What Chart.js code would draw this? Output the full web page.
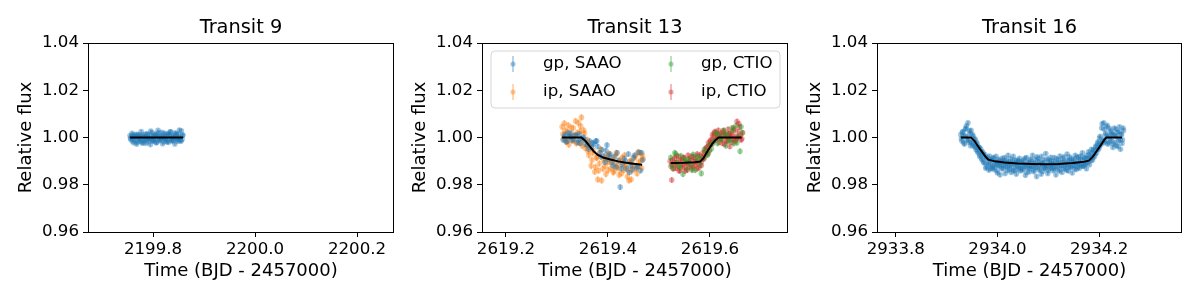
<!DOCTYPE html>
<html>
<head>
<meta charset="utf-8">
<script src="https://cdn.jsdelivr.net/npm/chart.js@4.4.1/dist/chart.umd.min.js"></script>
<style>
html, body { margin: 0; padding: 0; background: #fff; }
#wrap { position: relative; width: 1200px; height: 300px; overflow: hidden; }
#wrap canvas { position: absolute; top: 0; }
</style>
</head>
<body>
<div id="wrap">
  <canvas id="c9" width="400" height="300" style="left:0px"></canvas>
  <canvas id="c13" width="400" height="300" style="left:394px"></canvas>
  <canvas id="c16" width="400" height="300" style="left:789px"></canvas>
</div>
<script>
// ---- axes ----
const yTicks = [0.96, 0.98, 1.00, 1.02, 1.04];
const xlim9 = [2199.6725, 2200.2725];
const xlim13 = [2619.153, 2619.753];
const xlim16 = [2933.763, 2934.363];
const xTicks9 = [2199.8, 2200.0, 2200.2];
const xTicks13 = [2619.2, 2619.4, 2619.6];
const xTicks16 = [2933.8, 2934.0, 2934.2];

// ---- Transit 9 ----
const t9 = [2199.7550, 2199.7565, 2199.7580, 2199.7595, 2199.7610, 2199.7625, 2199.7640, 2199.7655, 2199.7670, 2199.7685,
  2199.7700, 2199.7715, 2199.7730, 2199.7745, 2199.7760, 2199.7775, 2199.7790, 2199.7805, 2199.7820, 2199.7835,
  2199.7850, 2199.7865, 2199.7880, 2199.7895, 2199.7910, 2199.7925, 2199.7940, 2199.7955, 2199.7970, 2199.7985,
  2199.8000, 2199.8015, 2199.8030, 2199.8045, 2199.8060, 2199.8075, 2199.8090, 2199.8105, 2199.8120, 2199.8135,
  2199.8150, 2199.8165, 2199.8180, 2199.8195, 2199.8210, 2199.8225, 2199.8240, 2199.8255, 2199.8270, 2199.8285,
  2199.8300, 2199.8315, 2199.8330, 2199.8345, 2199.8360, 2199.8375, 2199.8390, 2199.8405, 2199.8420, 2199.8435,
  2199.8450, 2199.8465, 2199.8480, 2199.8495, 2199.8510, 2199.8525, 2199.8540, 2199.8555, 2199.8570, 2199.8585,
  2199.7558, 2199.7588, 2199.7618, 2199.7648, 2199.7678, 2199.7708, 2199.7738, 2199.7768, 2199.7798, 2199.7828,
  2199.7858, 2199.7888, 2199.7918, 2199.7948, 2199.7978, 2199.8008, 2199.8038, 2199.8068, 2199.8098, 2199.8128,
  2199.8158, 2199.8188, 2199.8218, 2199.8248, 2199.8278, 2199.8308, 2199.8338, 2199.8368, 2199.8398, 2199.8428,
  2199.8458, 2199.8488, 2199.8518, 2199.8548, 2199.8578];
const f9 = [1.0008, 0.9992, 1.0003, 0.9985, 1.0011, 0.9997, 1.0005, 0.9988, 1.0014, 0.9979,
  1.0002, 0.9995, 1.0009, 0.9983, 1.0006, 0.9998, 0.9976, 1.0012, 0.9990, 1.0004,
  0.9987, 1.0016, 0.9994, 1.0001, 0.9981, 1.0010, 0.9996, 1.0027, 0.9989, 1.0007,
  0.9984, 1.0003, 0.9993, 1.0015, 0.9980, 1.0008, 0.9999, 1.0019, 0.9986, 1.0005,
  0.9991, 1.0022, 0.9997, 1.0002, 0.9982, 1.0013, 0.9994, 1.0006, 0.9988, 1.0017,
  0.9979, 1.0009, 0.9996, 1.0024, 0.9990, 1.0003, 0.9985, 1.0011, 0.9998, 1.0020,
  0.9992, 1.0007, 0.9983, 1.0014, 0.9995, 1.0001, 0.9987, 1.0028, 0.9993, 1.0010,
  0.9998, 1.0018, 0.9978, 1.0005, 0.9972, 1.0012, 0.9990, 1.0025, 0.9980, 1.0003,
  0.9975, 1.0015, 0.9994, 0.9970, 1.0021, 0.9988, 1.0010, 0.9977, 1.0030, 0.9992,
  1.0006, 0.9974, 1.0019, 0.9996, 0.9981, 1.0012, 1.0024, 0.9986, 1.0001, 0.9973,
  1.0016, 0.9993, 1.0032, 0.9984, 1.0009];
const model9 = [[2199.755, 1.0], [2199.859, 1.0]];

// ---- Transit 13 ----
const tGpSaao = [2619.312, 2619.316, 2619.320, 2619.324, 2619.328, 2619.332, 2619.336, 2619.340, 2619.344, 2619.348,
  2619.352, 2619.356, 2619.360, 2619.364, 2619.368, 2619.372, 2619.376, 2619.380, 2619.384, 2619.388,
  2619.392, 2619.396, 2619.400, 2619.404, 2619.408, 2619.412, 2619.416, 2619.420, 2619.424, 2619.428,
  2619.432, 2619.436, 2619.440, 2619.444, 2619.448, 2619.452, 2619.456, 2619.460, 2619.464, 2619.468,
  2619.314, 2619.318, 2619.322, 2619.330, 2619.338, 2619.346, 2619.354, 2619.362, 2619.370, 2619.378,
  2619.386, 2619.394, 2619.402, 2619.410, 2619.418, 2619.426, 2619.434, 2619.442, 2619.450, 2619.458,
  2619.466, 2619.326, 2619.342, 2619.398, 2619.446];
const fGpSaao = [0.9990, 1.0012, 0.9985, 1.0004, 1.0018, 0.9993, 1.0008, 0.9979, 1.0015, 0.9996,
  1.0001, 0.9972, 0.9968, 0.9985, 0.9958, 0.9972, 0.9985, 0.9962, 0.9935, 0.9948,
  0.9922, 0.9945, 0.9908, 0.9930, 0.9895, 0.9918, 0.9875, 0.9902, 0.9790, 0.9885,
  0.9912, 0.9868, 0.9930, 0.9880, 0.9865, 0.9925, 0.9872, 0.9938, 0.9860, 0.9905,
  1.0005, 0.9982, 1.0020, 0.9988, 1.0010, 0.9975, 0.9992, 0.9950, 0.9978, 0.9985,
  0.9918, 0.9895, 0.9925, 0.9880, 0.9935, 0.9868, 0.9900, 0.9852, 0.9915, 0.9878,
  0.9935, 1.0002, 0.9990, 0.9968, 0.9895];
const tIpSaao = [2619.310, 2619.313, 2619.316, 2619.319, 2619.322, 2619.326, 2619.329, 2619.332, 2619.335, 2619.338,
  2619.342, 2619.345, 2619.348, 2619.351, 2619.354, 2619.358, 2619.361, 2619.364, 2619.367, 2619.370,
  2619.374, 2619.377, 2619.380, 2619.383, 2619.386, 2619.390, 2619.393, 2619.396, 2619.399, 2619.402,
  2619.406, 2619.409, 2619.412, 2619.415, 2619.418, 2619.422, 2619.425, 2619.428, 2619.431, 2619.434,
  2619.438, 2619.441, 2619.444, 2619.447, 2619.450, 2619.454, 2619.457, 2619.460, 2619.463, 2619.466, 2619.469,
  2619.3115, 2619.3145, 2619.3175, 2619.3205, 2619.3235, 2619.3275, 2619.3305, 2619.3335, 2619.3365, 2619.3395,
  2619.3435, 2619.3465, 2619.3495, 2619.3525, 2619.3555, 2619.3595, 2619.3625, 2619.3655, 2619.3685, 2619.3715,
  2619.3755, 2619.3785, 2619.3815, 2619.3845, 2619.3875, 2619.3915, 2619.3945, 2619.3975, 2619.4005, 2619.4035,
  2619.4075, 2619.4105, 2619.4135, 2619.4165, 2619.4195, 2619.4235, 2619.4265, 2619.4295, 2619.4325, 2619.4355,
  2619.4395, 2619.4425, 2619.4455, 2619.4485, 2619.4515, 2619.4555, 2619.4585, 2619.4615, 2619.4645, 2619.4675];
const fIpSaao = [1.0045, 0.9995, 1.0030, 0.9980, 1.0052, 1.0010, 0.9988, 1.0040, 1.0008, 0.9975,
  1.0062, 1.0025, 1.0085, 0.9990, 1.0018, 0.9965, 0.9942, 0.9978, 0.9880, 0.9935,
  0.9855, 0.9915, 0.9822, 0.9890, 0.9950, 0.9868, 0.9912, 0.9845, 0.9898, 0.9932,
  0.9870, 0.9905, 0.9858, 0.9925, 0.9880, 0.9842, 0.9895, 0.9915, 0.9862, 0.9885,
  0.9835, 0.9818, 0.9900, 0.9858, 0.9878, 0.9920, 0.9848, 0.9895, 0.9935, 0.9870, 0.9910,
  1.0015, 1.0060, 0.9988, 1.0025, 0.9970, 1.0042, 1.0005, 0.9985, 1.0070, 1.0020,
  0.9978, 1.0048, 0.9965, 1.0030, 0.9955, 0.9990, 0.9925, 0.9960, 0.9905, 0.9945,
  0.9875, 0.9915, 0.9860, 0.9935, 0.9818, 0.9905, 0.9880, 0.9925, 0.9862, 0.9895,
  0.9912, 0.9852, 0.9888, 0.9935, 0.9870, 0.9905, 0.9848, 0.9892, 0.9925, 0.9875,
  0.9860, 0.9898, 0.9822, 0.9885, 0.9912, 0.9868, 0.9935, 0.9880, 0.9905, 0.9925];
const tGpCtio = [2619.523, 2619.527, 2619.531, 2619.535, 2619.539, 2619.543, 2619.547, 2619.551, 2619.555, 2619.559,
  2619.563, 2619.567, 2619.571, 2619.575, 2619.579, 2619.583, 2619.587, 2619.591, 2619.595, 2619.599,
  2619.603, 2619.607, 2619.611, 2619.615, 2619.619, 2619.623, 2619.627, 2619.631, 2619.635, 2619.639,
  2619.643, 2619.647, 2619.651, 2619.655, 2619.659, 2619.663,
  2619.525, 2619.533, 2619.541, 2619.549, 2619.557, 2619.565, 2619.573, 2619.581, 2619.589, 2619.597,
  2619.605, 2619.613, 2619.621, 2619.629, 2619.637, 2619.645, 2619.653, 2619.661];
const fGpCtio = [0.9915, 0.9870, 0.9935, 0.9895, 0.9880, 0.9922, 0.9845, 0.9905, 0.9868, 0.9910,
  0.9885, 0.9928, 0.9862, 0.9900, 0.9918, 0.9848, 0.9912, 0.9940, 0.9925, 0.9968,
  0.9952, 0.9985, 1.0015, 0.9975, 1.0008, 0.9992, 1.0030, 0.9965, 1.0012, 0.9990,
  1.0040, 0.9975, 1.0050, 1.0002, 0.9942, 1.0020,
  0.9885, 0.9930, 0.9872, 0.9908, 0.9895, 0.9862, 0.9920, 0.9885, 0.9950, 0.9935,
  0.9975, 1.0020, 0.9995, 1.0012, 0.9985, 1.0030, 0.9978, 1.0045];
const tIpCtio = [2619.522, 2619.525, 2619.527, 2619.530, 2619.533, 2619.535, 2619.538, 2619.541, 2619.543, 2619.546,
  2619.549, 2619.551, 2619.554, 2619.557, 2619.559, 2619.562, 2619.565, 2619.567, 2619.570, 2619.573,
  2619.575, 2619.578, 2619.581, 2619.583, 2619.586, 2619.589, 2619.591, 2619.594, 2619.597, 2619.599,
  2619.602, 2619.605, 2619.607, 2619.610, 2619.613, 2619.615, 2619.618, 2619.621, 2619.623, 2619.626,
  2619.629, 2619.631, 2619.634, 2619.637, 2619.639, 2619.642, 2619.645, 2619.647, 2619.650, 2619.653,
  2619.655, 2619.658, 2619.661, 2619.664,
  2619.5235, 2619.5265, 2619.5285, 2619.5315, 2619.5345, 2619.5365, 2619.5395, 2619.5425, 2619.5445, 2619.5475,
  2619.5505, 2619.5525, 2619.5555, 2619.5585, 2619.5605, 2619.5635, 2619.5665, 2619.5685, 2619.5715, 2619.5745,
  2619.5765, 2619.5795, 2619.5825, 2619.5845, 2619.5875, 2619.5905, 2619.5925, 2619.5955, 2619.5985, 2619.6005,
  2619.6035, 2619.6065, 2619.6085, 2619.6115, 2619.6145, 2619.6165, 2619.6195, 2619.6225, 2619.6245, 2619.6275,
  2619.6305, 2619.6325, 2619.6355, 2619.6385, 2619.6405, 2619.6435, 2619.6465, 2619.6485, 2619.6515, 2619.6545,
  2619.6565, 2619.6595, 2619.6625];
const fIpCtio = [0.9900, 0.9820, 0.9885, 0.9912, 0.9870, 0.9895, 0.9920, 0.9862, 0.9905, 0.9880,
  0.9915, 0.9858, 0.9892, 0.9925, 0.9875, 0.9902, 0.9868, 0.9918, 0.9885, 0.9898,
  0.9930, 0.9872, 0.9908, 0.9882, 0.9935, 0.9915, 0.9948, 0.9960, 0.9978, 0.9945,
  0.9990, 1.0012, 0.9985, 1.0025, 0.9998, 1.0008, 0.9980, 1.0018, 0.9995, 1.0028,
  0.9972, 1.0005, 0.9988, 1.0015, 0.9962, 1.0010, 0.9992, 1.0032, 0.9985, 1.0068,
  1.0002, 1.0045, 0.9990, 1.0020,
  0.9878, 0.9905, 0.9868, 0.9892, 0.9922, 0.9880, 0.9858, 0.9900, 0.9885, 0.9915,
  0.9872, 0.9895, 0.9862, 0.9908, 0.9888, 0.9920, 0.9875, 0.9898, 0.9912, 0.9868,
  0.9890, 0.9925, 0.9895, 0.9918, 0.9908, 0.9940, 0.9955, 0.9930, 0.9968, 0.9985,
  0.9972, 1.0005, 1.0020, 0.9990, 1.0015, 1.0030, 0.9995, 1.0008, 0.9975, 1.0022,
  1.0012, 0.9985, 1.0035, 0.9998, 1.0018, 0.9980, 1.0040, 1.0005, 0.9992, 1.0025,
  1.0058, 1.0010, 0.9995];
const modelSaao = [[2619.310, 1.0], [2619.348, 1.0], [2619.356, 0.9985], [2619.364, 0.9963], [2619.372, 0.9942],
  [2619.380, 0.9926], [2619.392, 0.9914], [2619.407, 0.9906], [2619.420, 0.9899], [2619.433, 0.9894],
  [2619.450, 0.9889], [2619.467, 0.9885]];
const modelCtio = [[2619.523, 0.9892], [2619.550, 0.9893], [2619.570, 0.9895], [2619.581, 0.9898], [2619.588, 0.9915],
  [2619.596, 0.9945], [2619.604, 0.9972], [2619.611, 0.9990], [2619.617, 1.0], [2619.662, 1.0]];
const labels13 = ['gp, SAAO', 'ip, SAAO', 'gp, CTIO', 'ip, CTIO'];
const err13 = [0.0012, 0.0014, 0.0013, 0.0012];

// ---- Transit 16 ----
const t16 = [2933.928, 2933.930, 2933.932, 2933.934, 2933.936, 2933.938, 2933.940, 2933.942, 2933.944, 2933.946,
  2933.948, 2933.950, 2933.952, 2933.954, 2933.956, 2933.958, 2933.960, 2933.962, 2933.964, 2933.966,
  2933.968, 2933.970, 2933.972, 2933.974, 2933.976, 2933.978, 2933.980, 2933.982, 2933.984, 2933.986,
  2933.988, 2933.990, 2933.992, 2933.994, 2933.996, 2933.998, 2934.000, 2934.002, 2934.004, 2934.006,
  2934.008, 2934.010, 2934.012, 2934.014, 2934.016, 2934.018, 2934.020, 2934.022, 2934.024, 2934.026,
  2934.028, 2934.030, 2934.032, 2934.034, 2934.036, 2934.038, 2934.040, 2934.042, 2934.044, 2934.046,
  2934.048, 2934.050, 2934.052, 2934.054, 2934.056, 2934.058, 2934.060, 2934.062, 2934.064, 2934.066,
  2934.068, 2934.070, 2934.072, 2934.074, 2934.076, 2934.078, 2934.080, 2934.082, 2934.084, 2934.086,
  2934.088, 2934.090, 2934.092, 2934.094, 2934.096, 2934.098, 2934.100, 2934.102, 2934.104, 2934.106,
  2934.108, 2934.110, 2934.112, 2934.114, 2934.116, 2934.118, 2934.120, 2934.122, 2934.124, 2934.126,
  2934.128, 2934.130, 2934.132, 2934.134, 2934.136, 2934.138, 2934.140, 2934.142, 2934.144, 2934.146,
  2934.148, 2934.150, 2934.152, 2934.154, 2934.156, 2934.158, 2934.160, 2934.162, 2934.164, 2934.166,
  2934.168, 2934.170, 2934.172, 2934.174, 2934.176, 2934.178, 2934.180, 2934.182, 2934.184, 2934.186,
  2934.188, 2934.190, 2934.192, 2934.194, 2934.196, 2934.198, 2934.200, 2934.202, 2934.204, 2934.206,
  2934.208, 2934.210, 2934.212, 2934.214, 2934.216, 2934.218, 2934.220, 2934.222, 2934.224, 2934.226,
  2934.228, 2934.230, 2934.232, 2934.234, 2934.236, 2934.238, 2934.240, 2934.242, 2934.244, 2934.246, 2934.248,
  2933.929, 2933.931, 2933.933, 2933.935, 2933.937, 2933.939, 2933.941, 2933.943, 2933.945, 2933.947,
  2933.949, 2933.951, 2933.953, 2933.955, 2933.957, 2933.959, 2933.961, 2933.963, 2933.965, 2933.967,
  2933.969, 2933.971, 2933.973, 2933.975, 2933.977, 2933.979, 2933.981, 2933.983, 2933.985, 2933.987,
  2933.989, 2933.991, 2933.993, 2933.995, 2933.997, 2933.999, 2934.001, 2934.003, 2934.005, 2934.007,
  2934.009, 2934.011, 2934.013, 2934.015, 2934.017, 2934.019, 2934.021, 2934.023, 2934.025, 2934.027,
  2934.029, 2934.031, 2934.033, 2934.035, 2934.037, 2934.039, 2934.041, 2934.043, 2934.045, 2934.047,
  2934.049, 2934.051, 2934.053, 2934.055, 2934.057, 2934.059, 2934.061, 2934.063, 2934.065, 2934.067,
  2934.069, 2934.071, 2934.073, 2934.075, 2934.077, 2934.079, 2934.081, 2934.083, 2934.085, 2934.087,
  2934.089, 2934.091, 2934.093, 2934.095, 2934.097, 2934.099, 2934.101, 2934.103, 2934.105, 2934.107,
  2934.109, 2934.111, 2934.113, 2934.115, 2934.117, 2934.119, 2934.121, 2934.123, 2934.125, 2934.127,
  2934.129, 2934.131, 2934.133, 2934.135, 2934.137, 2934.139, 2934.141, 2934.143, 2934.145, 2934.147,
  2934.149, 2934.151, 2934.153, 2934.155, 2934.157, 2934.159, 2934.161, 2934.163, 2934.165, 2934.167,
  2934.169, 2934.171, 2934.173, 2934.175, 2934.177, 2934.179, 2934.181, 2934.183, 2934.185, 2934.187,
  2934.189, 2934.191, 2934.193, 2934.195, 2934.197, 2934.199, 2934.201, 2934.203, 2934.205, 2934.207,
  2934.209, 2934.211, 2934.213, 2934.215, 2934.217, 2934.219, 2934.221, 2934.223, 2934.225, 2934.227,
  2934.229, 2934.231, 2934.233, 2934.235, 2934.237, 2934.239, 2934.241, 2934.243, 2934.245, 2934.247];
const f16 = [1.0012, 0.9985, 1.0025, 0.9978, 1.0008, 1.0040, 0.9992, 1.0062, 0.9980, 1.0018,
  1.0030, 0.9975, 1.0005, 0.9962, 0.9990, 0.9948, 0.9972, 0.9935, 0.9958, 0.9925,
  0.9942, 0.9905, 0.9930, 0.9892, 0.9918, 0.9875, 0.9912, 0.9885, 0.9922, 0.9868,
  0.9905, 0.9880, 0.9912, 0.9872, 0.9898, 0.9885, 0.9850, 0.9908, 0.9878, 0.9895,
  0.9868, 0.9902, 0.9882, 0.9915, 0.9875, 0.9893, 0.9860, 0.9898, 0.9880, 0.9910,
  0.9872, 0.9890, 0.9858, 0.9905, 0.9878, 0.9895, 0.9865, 0.9900, 0.9882, 0.9870,
  0.9898, 0.9862, 0.9888, 0.9912, 0.9875, 0.9852, 0.9895, 0.9880, 0.9868, 0.9902,
  0.9878, 0.9892, 0.9855, 0.9908, 0.9872, 0.9918, 0.9885, 0.9862, 0.9898, 0.9845,
  0.9890, 0.9875, 0.9905, 0.9868, 0.9882, 0.9910, 0.9860, 0.9895, 0.9878, 0.9902,
  0.9870, 0.9888, 0.9915, 0.9865, 0.9892, 0.9878, 0.9905, 0.9858, 0.9895, 0.9882,
  0.9912, 0.9870, 0.9898, 0.9885, 0.9862, 0.9905, 0.9880, 0.9918, 0.9872, 0.9895,
  0.9880, 0.9908, 0.9868, 0.9892, 0.9915, 0.9875, 0.9900, 0.9885, 0.9922, 0.9878,
  0.9905, 0.9882, 0.9912, 0.9888, 0.9925, 0.9895, 0.9910, 0.9930, 0.9902, 0.9935,
  0.9915, 0.9945, 0.9930, 0.9965, 0.9948, 0.9982, 0.9960, 1.0005, 0.9975, 1.0058,
  0.9990, 1.0035, 1.0010, 0.9985, 1.0052, 1.0002, 0.9978, 1.0028, 0.9995, 1.0015,
  0.9972, 1.0040, 1.0008, 0.9965, 1.0022, 0.9985, 1.0045, 0.9950, 1.0012, 0.9990, 1.0030,
  0.9995, 1.0022, 1.0005, 0.9972, 1.0035, 1.0050, 1.0003, 0.9988, 1.0028, 0.9965,
  0.9982, 1.0012, 0.9968, 0.9995, 0.9958, 0.9980, 0.9942, 0.9960, 0.9920, 0.9952,
  0.9910, 0.9938, 0.9895, 0.9928, 0.9870, 0.9915, 0.9893, 0.9862, 0.9906, 0.9888,
  0.9872, 0.9915, 0.9865, 0.9890, 0.9920, 0.9858, 0.9882, 0.9900, 0.9842, 0.9885,
  0.9912, 0.9870, 0.9895, 0.9848, 0.9905, 0.9880, 0.9925, 0.9866, 0.9888, 0.9852,
  0.9898, 0.9920, 0.9862, 0.9885, 0.9845, 0.9903, 0.9876, 0.9912, 0.9858, 0.9893,
  0.9868, 0.9905, 0.9882, 0.9840, 0.9915, 0.9872, 0.9893, 0.9855, 0.9908, 0.9878,
  0.9925, 0.9862, 0.9890, 0.9876, 0.9835, 0.9898, 0.9912, 0.9868, 0.9884, 0.9920,
  0.9856, 0.9895, 0.9872, 0.9932, 0.9880, 0.9848, 0.9902, 0.9870, 0.9916, 0.9885,
  0.9860, 0.9898, 0.9875, 0.9842, 0.9910, 0.9888, 0.9865, 0.9922, 0.9880, 0.9852,
  0.9895, 0.9918, 0.9868, 0.9885, 0.9930, 0.9858, 0.9900, 0.9876, 0.9910, 0.9850,
  0.9902, 0.9882, 0.9925, 0.9865, 0.9890, 0.9918, 0.9870, 0.9908, 0.9888, 0.9935,
  0.9878, 0.9915, 0.9890, 0.9868, 0.9912, 0.9940, 0.9885, 0.9918, 0.9950, 0.9905,
  0.9948, 0.9920, 0.9960, 0.9935, 0.9975, 0.9950, 0.9998, 0.9968, 1.0040, 0.9985,
  1.0062, 0.9978, 1.0018, 1.0045, 0.9972, 1.0008, 1.0038, 0.9985, 1.0020, 0.9958,
  1.0010, 0.9980, 1.0035, 1.0002, 0.9962, 1.0025, 0.9990, 1.0015, 0.9975, 1.0040];
const model16 = [[2933.928, 1.0], [2933.948, 1.0], [2933.955, 0.9985], [2933.962, 0.9962], [2933.970, 0.9938],
  [2933.976, 0.9920], [2933.982, 0.9906], [2933.995, 0.9899], [2934.014, 0.9894], [2934.040, 0.9890],
  [2934.070, 0.9888], [2934.095, 0.9887], [2934.120, 0.9888], [2934.148, 0.9892], [2934.170, 0.9897],
  [2934.180, 0.9902], [2934.188, 0.9920], [2934.196, 0.9945], [2934.204, 0.9970], [2934.210, 0.9990],
  [2934.214, 1.0], [2934.245, 1.0]];
const err9 = 0.0007;
const err16 = 0.0008;

// ---- style ----
const FONT = 'DejaVu Sans';
const COLORS = ['31,119,180', '255,127,14', '44,160,44', '214,39,40'];
const ALPHA = 0.42;
Chart.defaults.color = '#000';
Chart.defaults.font.family = FONT;

const pts = (t, f) => t.map((x, i) => ({ x: x, y: f[i] }));
const linePts = m => m.map(p => ({ x: p[0], y: p[1] }));

const scatterSet = (label, t, f, c, err) => ({
  label: label,
  data: pts(t, f),
  err: err,
  backgroundColor: 'rgba(' + c + ',' + ALPHA + ')',
  borderWidth: 0,
  pointRadius: 2.8,
  order: 2
});
const modelSet = m => ({
  label: 'model',
  data: linePts(m),
  showLine: true,
  borderColor: '#000',
  borderWidth: 2,
  pointRadius: 0,
  order: 0
});

// frame and title
const framePlugin = {
  id: 'frame',
  afterDraw(chart, args, opts) {
    const { ctx, chartArea: a } = chart;
    ctx.save();
    ctx.strokeStyle = '#000';
    ctx.lineWidth = 1;
    ctx.strokeRect(Math.round(a.left) + 0.5, Math.round(a.top) + 0.5,
      Math.round(a.right - a.left) - 1, Math.round(a.bottom - a.top));
    ctx.fillStyle = '#000';
    ctx.font = '19.4px "' + FONT + '"';
    ctx.textAlign = 'center';
    ctx.textBaseline = 'alphabetic';
    ctx.fillText(opts.title, (a.left + a.right) / 2, 33);
    ctx.restore();
  }
};

// vertical error bars under the points
const errPlugin = {
  id: 'errbars',
  beforeDatasetsDraw(chart) {
    const { ctx } = chart;
    const ys = chart.scales.y;
    chart.data.datasets.forEach((ds, i) => {
      if (!ds.err) return;
      const meta = chart.getDatasetMeta(i);
      ctx.save();
      ctx.strokeStyle = ds.backgroundColor;
      ctx.lineWidth = 1.5;
      meta.data.forEach((p, j) => {
        const v = ds.data[j].y;
        ctx.beginPath();
        ctx.moveTo(p.x, ys.getPixelForValue(v + ds.err));
        ctx.lineTo(p.x, ys.getPixelForValue(v - ds.err));
        ctx.stroke();
      });
      ctx.restore();
    });
  }
};

// matplotlib style legend (2 columns) inside the axes
const legendPlugin = {
  id: 'mplLegend',
  afterDraw(chart, args, opts) {
    if (!opts.show) return;
    const { ctx, chartArea: a } = chart;
    const x0 = a.left + 9, y0 = a.top + 8, w = 289, h = 57, r = 4;
    ctx.save();
    ctx.beginPath();
    ctx.moveTo(x0 + r, y0);
    ctx.arcTo(x0 + w, y0, x0 + w, y0 + h, r);
    ctx.arcTo(x0 + w, y0 + h, x0, y0 + h, r);
    ctx.arcTo(x0, y0 + h, x0, y0, r);
    ctx.arcTo(x0, y0, x0 + w, y0, r);
    ctx.closePath();
    ctx.fillStyle = 'rgba(255,255,255,0.8)';
    ctx.fill();
    ctx.strokeStyle = '#d6d6d6';
    ctx.lineWidth = 1;
    ctx.stroke();
    ctx.font = '16.67px "' + FONT + '"';
    ctx.textBaseline = 'middle';
    ctx.textAlign = 'left';
    for (let i = 0; i < 4; i++) {
      const ds = chart.data.datasets[i];
      const col = Math.floor(i / 2), row = i % 2;
      const mx = a.left + 31 + col * 158;
      const my = a.top + 21 + row * 28;
      ctx.strokeStyle = ds.backgroundColor;
      ctx.lineWidth = 1.5;
      ctx.beginPath();
      ctx.moveTo(mx, my - 8);
      ctx.lineTo(mx, my + 8);
      ctx.stroke();
      ctx.fillStyle = ds.backgroundColor;
      ctx.beginPath();
      ctx.arc(mx, my, 2.6, 0, Math.PI * 2);
      ctx.fill();
      ctx.fillStyle = '#000';
      ctx.fillText(ds.label, mx + 30, my);
    }
    ctx.restore();
  }
};

function makeChart(id, datasets, xlim, xTicks, title, padRight, legend) {
  return new Chart(document.getElementById(id), {
    type: 'scatter',
    data: { datasets: datasets },
    plugins: [framePlugin, errPlugin, legendPlugin],
    options: {
      responsive: false,
      animation: false,
      events: [],
      layout: { padding: { top: 43, right: padRight, bottom: 0, left: 0 } },
      plugins: {
        legend: { display: false },
        tooltip: { enabled: false },
        frame: { title: title },
        mplLegend: { show: legend }
      },
      scales: {
        x: {
          type: 'linear',
          min: xlim[0],
          max: xlim[1],
          afterBuildTicks: s => { s.ticks = xTicks.map(v => ({ value: v })); },
          afterFit: s => { s.height = 68; },
          ticks: { font: { size: 16.67 }, padding: 3, maxRotation: 0, callback: v => v.toFixed(1) },
          grid: { drawOnChartArea: false, drawTicks: true, tickLength: 5, color: '#000' },
          border: { display: false },
          title: { display: true, text: 'Time (BJD - 2457000)', font: { size: 18 }, padding: { top: 0, bottom: 18 } }
        },
        y: {
          type: 'linear',
          min: 0.96,
          max: 1.04,
          afterBuildTicks: s => { s.ticks = yTicks.map(v => ({ value: v })); },
          afterFit: s => { s.width = 88; },
          ticks: { font: { size: 16.67 }, padding: 4, callback: v => v.toFixed(2) },
          grid: { drawOnChartArea: false, drawTicks: true, tickLength: 5, color: '#000' },
          border: { display: false },
          title: { display: true, text: 'Relative flux', font: { size: 18 }, padding: { top: 16, bottom: 0 } }
        }
      }
    }
  });
}

makeChart('c9', [
  modelSet(model9),
  scatterSet('TESS', t9, f9, COLORS[0], err9)
], xlim9, xTicks9, 'Transit 9', 6, false);

makeChart('c13', [
  scatterSet(labels13[0], tGpSaao, fGpSaao, COLORS[0], err13[0]),
  scatterSet(labels13[1], tIpSaao, fIpSaao, COLORS[1], err13[1]),
  scatterSet(labels13[2], tGpCtio, fGpCtio, COLORS[2], err13[2]),
  scatterSet(labels13[3], tIpCtio, fIpCtio, COLORS[3], err13[3]),
  modelSet(modelSaao),
  modelSet(modelCtio)
], xlim13, xTicks13, 'Transit 13', 6, true);

makeChart('c16', [
  modelSet(model16),
  scatterSet('TESS', t16, f16, COLORS[0], err16)
], xlim16, xTicks16, 'Transit 16', 7, false);
</script>
</body>
</html>
